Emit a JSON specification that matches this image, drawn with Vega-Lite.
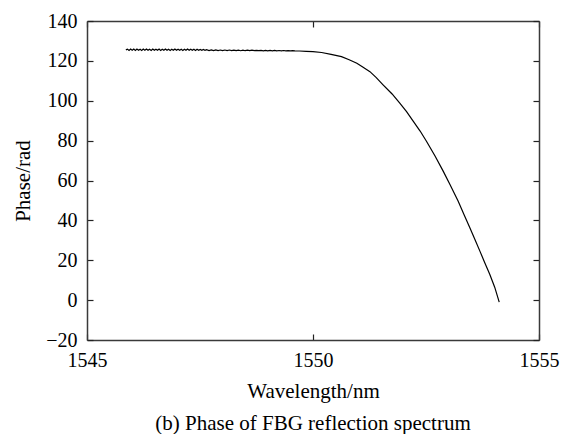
{
  "$schema": "https://vega.github.io/schema/vega-lite/v6.json",
  "width": 452,
  "height": 319,
  "autosize": {"type": "none"},
  "padding": {"left": 87, "top": 21, "right": 24, "bottom": 94},
  "background": "white",
  "title": {
    "text": "(b) Phase of FBG reflection spectrum",
    "orient": "bottom",
    "anchor": "middle",
    "font": "Liberation Serif",
    "fontSize": 21,
    "fontWeight": "normal",
    "color": "black",
    "offset": 12
  },
  "data": {
    "values": [
      {"wavelength": 1545.860, "phase": 125.5},
      {"wavelength": 1545.895, "phase": 125.9},
      {"wavelength": 1545.930, "phase": 125.2},
      {"wavelength": 1545.965, "phase": 125.9},
      {"wavelength": 1546.000, "phase": 125.3},
      {"wavelength": 1546.035, "phase": 125.9},
      {"wavelength": 1546.070, "phase": 125.2},
      {"wavelength": 1546.105, "phase": 125.9},
      {"wavelength": 1546.140, "phase": 125.3},
      {"wavelength": 1546.175, "phase": 125.8},
      {"wavelength": 1546.210, "phase": 125.2},
      {"wavelength": 1546.245, "phase": 125.9},
      {"wavelength": 1546.280, "phase": 125.3},
      {"wavelength": 1546.315, "phase": 125.9},
      {"wavelength": 1546.350, "phase": 125.3},
      {"wavelength": 1546.385, "phase": 125.8},
      {"wavelength": 1546.420, "phase": 125.2},
      {"wavelength": 1546.455, "phase": 125.9},
      {"wavelength": 1546.490, "phase": 125.3},
      {"wavelength": 1546.525, "phase": 125.8},
      {"wavelength": 1546.560, "phase": 125.3},
      {"wavelength": 1546.595, "phase": 125.9},
      {"wavelength": 1546.630, "phase": 125.2},
      {"wavelength": 1546.665, "phase": 125.8},
      {"wavelength": 1546.700, "phase": 125.3},
      {"wavelength": 1546.735, "phase": 125.9},
      {"wavelength": 1546.770, "phase": 125.3},
      {"wavelength": 1546.805, "phase": 125.8},
      {"wavelength": 1546.840, "phase": 125.2},
      {"wavelength": 1546.875, "phase": 125.8},
      {"wavelength": 1546.910, "phase": 125.3},
      {"wavelength": 1546.945, "phase": 125.9},
      {"wavelength": 1546.980, "phase": 125.3},
      {"wavelength": 1547.015, "phase": 125.8},
      {"wavelength": 1547.050, "phase": 125.3},
      {"wavelength": 1547.085, "phase": 125.8},
      {"wavelength": 1547.120, "phase": 125.2},
      {"wavelength": 1547.155, "phase": 125.8},
      {"wavelength": 1547.190, "phase": 125.3},
      {"wavelength": 1547.225, "phase": 125.9},
      {"wavelength": 1547.260, "phase": 125.3},
      {"wavelength": 1547.295, "phase": 125.8},
      {"wavelength": 1547.330, "phase": 125.3},
      {"wavelength": 1547.365, "phase": 125.8},
      {"wavelength": 1547.400, "phase": 125.2},
      {"wavelength": 1547.435, "phase": 125.8},
      {"wavelength": 1547.470, "phase": 125.3},
      {"wavelength": 1547.505, "phase": 125.7},
      {"wavelength": 1547.540, "phase": 125.3},
      {"wavelength": 1547.575, "phase": 125.7},
      {"wavelength": 1547.610, "phase": 125.3},
      {"wavelength": 1547.645, "phase": 125.6},
      {"wavelength": 1547.70, "phase": 125.2},
      {"wavelength": 1547.75, "phase": 125.5},
      {"wavelength": 1547.80, "phase": 125.2},
      {"wavelength": 1547.85, "phase": 125.5},
      {"wavelength": 1547.90, "phase": 125.2},
      {"wavelength": 1547.95, "phase": 125.45},
      {"wavelength": 1548.00, "phase": 125.15},
      {"wavelength": 1548.05, "phase": 125.45},
      {"wavelength": 1548.10, "phase": 125.15},
      {"wavelength": 1548.15, "phase": 125.45},
      {"wavelength": 1548.20, "phase": 125.15},
      {"wavelength": 1548.25, "phase": 125.4},
      {"wavelength": 1548.30, "phase": 125.15},
      {"wavelength": 1548.35, "phase": 125.4},
      {"wavelength": 1548.40, "phase": 125.1},
      {"wavelength": 1548.45, "phase": 125.4},
      {"wavelength": 1548.50, "phase": 125.1},
      {"wavelength": 1548.55, "phase": 125.35},
      {"wavelength": 1548.60, "phase": 125.1},
      {"wavelength": 1548.65, "phase": 125.35},
      {"wavelength": 1548.70, "phase": 125.1},
      {"wavelength": 1548.75, "phase": 125.3},
      {"wavelength": 1548.80, "phase": 125.1},
      {"wavelength": 1548.85, "phase": 125.3},
      {"wavelength": 1548.90, "phase": 125.05},
      {"wavelength": 1548.95, "phase": 125.3},
      {"wavelength": 1549.00, "phase": 125.05},
      {"wavelength": 1549.05, "phase": 125.25},
      {"wavelength": 1549.10, "phase": 125.05},
      {"wavelength": 1549.15, "phase": 125.25},
      {"wavelength": 1549.20, "phase": 125.05},
      {"wavelength": 1549.25, "phase": 125.2},
      {"wavelength": 1549.30, "phase": 125.05},
      {"wavelength": 1549.35, "phase": 125.2},
      {"wavelength": 1549.40, "phase": 125.05},
      {"wavelength": 1549.45, "phase": 125.15},
      {"wavelength": 1549.50, "phase": 125.05},
      {"wavelength": 1549.55, "phase": 125.1},
      {"wavelength": 1549.60, "phase": 125.0},
      {"wavelength": 1549.70, "phase": 124.95},
      {"wavelength": 1549.85, "phase": 124.8},
      {"wavelength": 1550.00, "phase": 124.6},
      {"wavelength": 1550.19, "phase": 124.2},
      {"wavelength": 1550.40, "phase": 123.3},
      {"wavelength": 1550.63, "phase": 122.1},
      {"wavelength": 1550.80, "phase": 120.6},
      {"wavelength": 1550.97, "phase": 118.8},
      {"wavelength": 1551.10, "phase": 116.9},
      {"wavelength": 1551.26, "phase": 114.6},
      {"wavelength": 1551.40, "phase": 111.6},
      {"wavelength": 1551.55, "phase": 108.0},
      {"wavelength": 1551.75, "phase": 103.4},
      {"wavelength": 1551.92, "phase": 98.8},
      {"wavelength": 1552.07, "phase": 94.5},
      {"wavelength": 1552.22, "phase": 89.7},
      {"wavelength": 1552.37, "phase": 84.8},
      {"wavelength": 1552.51, "phase": 79.7},
      {"wavelength": 1552.70, "phase": 72.3},
      {"wavelength": 1552.88, "phase": 64.7},
      {"wavelength": 1553.03, "phase": 58.0},
      {"wavelength": 1553.21, "phase": 49.7},
      {"wavelength": 1553.34, "phase": 43.0},
      {"wavelength": 1553.47, "phase": 36.3},
      {"wavelength": 1553.58, "phase": 30.5},
      {"wavelength": 1553.69, "phase": 24.7},
      {"wavelength": 1553.80, "phase": 18.8},
      {"wavelength": 1553.91, "phase": 13.0},
      {"wavelength": 1554.02, "phase": 6.5},
      {"wavelength": 1554.12, "phase": -1.0}
    ]
  },
  "layer": [
    {
      "mark": {"type": "line", "color": "black", "strokeWidth": 1.2, "clip": true},
      "encoding": {
        "x": {
          "field": "wavelength", "type": "quantitative",
          "scale": {"domain": [1545, 1555], "nice": false, "zero": false},
          "axis": {"orient": "bottom", "values": [1545, 1550, 1555], "format": "d", "title": "Wavelength/nm",
            "labelFont": "Liberation Serif", "labelFontSize": 20, "labelColor": "black", "labelFlush": false,
            "ticks": true, "tickSize": -6, "labelPadding": 16, "titlePadding": 10}
        },
        "y": {
          "field": "phase", "type": "quantitative",
          "scale": {"domain": [-20, 140], "nice": false, "zero": false},
          "axis": {"orient": "left", "values": [-20, 0, 20, 40, 60, 80, 100, 120, 140], "format": "d", "title": "Phase/rad",
            "labelFont": "Liberation Serif", "labelFontSize": 20, "labelColor": "black", "labelFlush": false,
            "ticks": true, "tickSize": -6, "labelPadding": 16, "titlePadding": 12}
        }
      }
    },
    {
      "mark": {"type": "line", "strokeOpacity": 0},
      "encoding": {
        "x": {
          "field": "wavelength", "type": "quantitative",
          "axis": {"orient": "top", "values": [1545, 1550, 1555], "labels": false, "title": null, "ticks": true, "tickSize": -6}
        },
        "y": {
          "field": "phase", "type": "quantitative",
          "axis": {"orient": "right", "values": [-20, 0, 20, 40, 60, 80, 100, 120, 140], "labels": false, "title": null, "ticks": true, "tickSize": -6}
        }
      }
    }
  ],
  "resolve": {"axis": {"x": "independent", "y": "independent"}},
  "config": {
    "view": {"stroke": null},
    "axis": {
      "grid": false,
      "labelFont": "Liberation Serif",
      "titleFont": "Liberation Serif",
      "labelFontSize": 20,
      "titleFontSize": 21,
      "titleFontWeight": "normal",
      "labelColor": "black",
      "titleColor": "black",
      "domainColor": "#3a3a3a",
      "domainWidth": 1.5,
      "tickColor": "#222222",
      "tickWidth": 1.2,
      "labelOverlap": false
    }
  }
}
